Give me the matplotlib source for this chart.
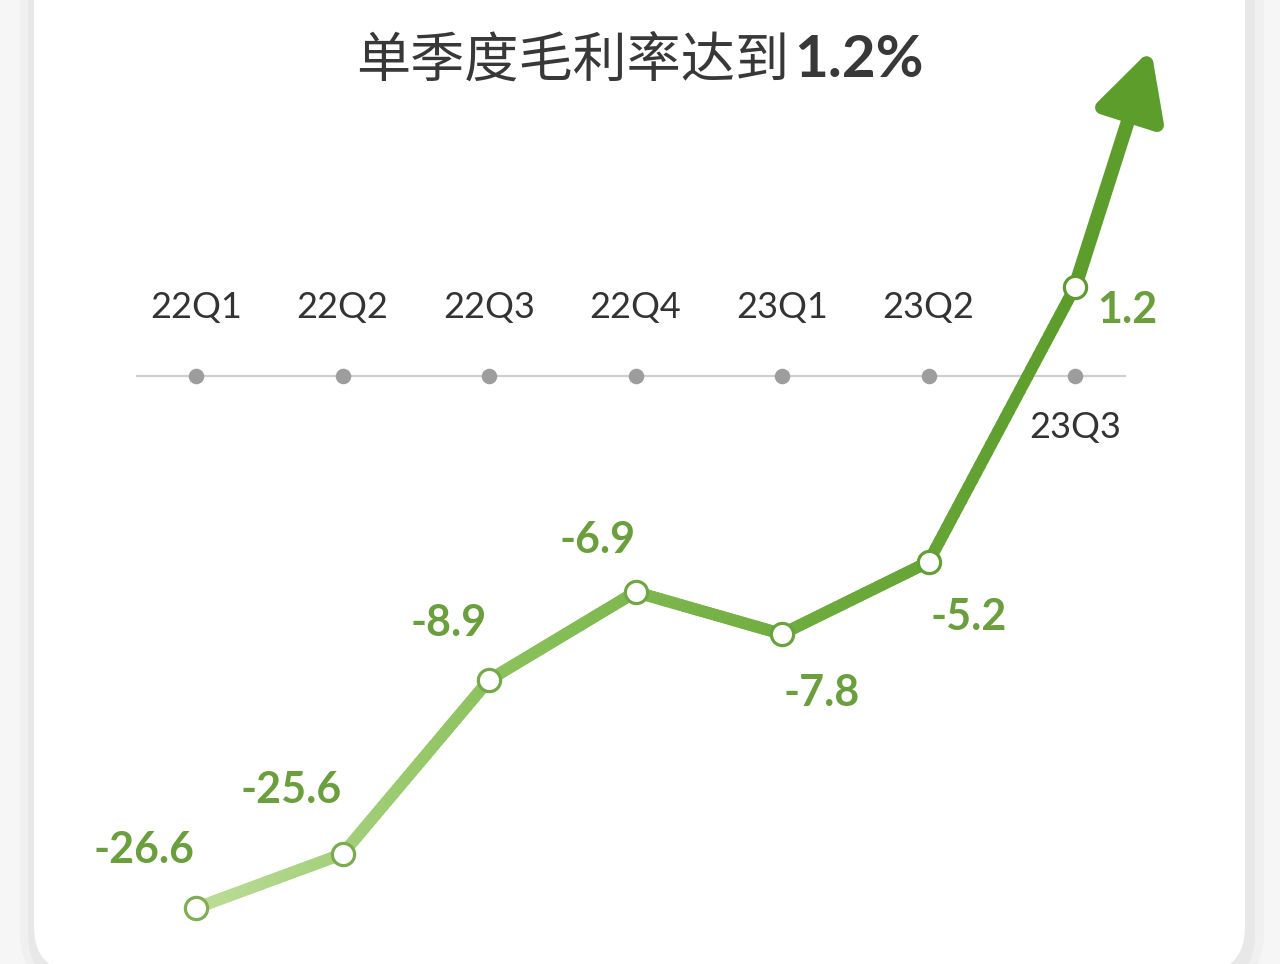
import numpy as np
import matplotlib
matplotlib.use('Agg')
import matplotlib.pyplot as plt
import matplotlib.transforms as mtransforms
from matplotlib.collections import LineCollection
from matplotlib.colors import LinearSegmentedColormap
from matplotlib.patches import FancyBboxPatch

plt.rcParams['font.family'] = ['Lato', 'Noto Sans CJK SC', 'DejaVu Sans']

# ---------------------------------------------------------------------------
# data
quarters = ['22Q1', '22Q2', '22Q3', '22Q4', '23Q1', '23Q2', '23Q3']
margin = [-26.6, -25.6, -8.9, -6.9, -7.8, -5.2, 1.2]   # gross margin, %
title_txt = '单季度毛利率达到'
title_num = '1.2%'

# ---------------------------------------------------------------------------
# layout: the source graphic is not drawn to scale, so the y axis uses a
# piecewise scale (value -> pixel height from the bottom of the card)
scale_vals = np.concatenate(([-27.6], np.sort(margin), [7.9]))
scale_px = [0, 56, 110, 284, 330, 372, 402, 677, 964]

# label offsets from each point (pixels, +y up)
label_off = [(-52, 58), (-51, 64), (-40, 57), (-38, 52),
             (40, -59), (40, -55), (52, -23)]

W, H, DPI = 12.8, 9.64, 100
PT = 72 / DPI           # pixels -> points

GREEN_TXT = '#6b9e3c'
ARROW = '#5c9d2c'
cmap = LinearSegmentedColormap.from_list(
    'g', ['#bddd99', '#8cc25d', '#70ad40', '#5b9c2b'])
edge_cmap = LinearSegmentedColormap.from_list(
    'e', ['#80ae55', '#70a643', '#5e9b30'])


def fwd(v):
    return np.interp(v, scale_vals, scale_px)


def inv(p):
    return np.interp(p, scale_px, scale_vals)


fig = plt.figure(figsize=(W, H), dpi=DPI, facecolor='#f6f6f6')

# card + soft shadow
for x0, x1, col in [(0.2, 12.64, '#f0f0f0'), (0.28, 12.55, '#e8e8e8')]:
    fig.add_artist(FancyBboxPatch((x0, -0.2), x1 - x0, 12,
                                  boxstyle='round,pad=0,rounding_size=0.5',
                                  transform=fig.dpi_scale_trans,
                                  fc=col, ec='none', zorder=-3))
fig.add_artist(FancyBboxPatch((0.34, -0.08), 12.11, 12,
                              boxstyle='round,pad=0,rounding_size=0.45',
                              transform=fig.dpi_scale_trans,
                              fc='white', ec='none', zorder=-2))

ax = fig.add_axes([0, 0, 1, 1])
ax.set_axis_off()
ax.set_yscale('function', functions=(fwd, inv))
x = np.arange(len(quarters))
step = 146.5
ax.set_xlim(-196 / step, (W * DPI - 196) / step)
ax.set_ylim(scale_vals[0], scale_vals[-1])

# timeline
blend = mtransforms.blended_transform_factory(ax.transData, ax.transAxes)
y_tl = (964 - 376) / 964
ax.plot([-59 / step, (1125 - 196) / step], [y_tl, y_tl], color='#cfcfcf',
        lw=1.6, transform=blend, zorder=1)
ax.scatter(x, [y_tl] * len(x), s=125, color='#9d9d9d', transform=blend,
           zorder=2, linewidths=0)
for i, q in enumerate(quarters):
    dy = 49 if i < len(quarters) - 1 else -37
    ax.annotate(q, (x[i], y_tl), xycoords=blend, xytext=(0, dy),
                textcoords='offset points', ha='center', va='center',
                fontsize=26, color='#333333')

# gradient line (built in axes space so each segment stays straight)
pts = ax.transAxes.inverted().transform(
    ax.transData.transform(np.column_stack([x, margin])))
segs, cvals = [], []
for a, b in zip(pts[:-1], pts[1:]):
    t = np.linspace(0, 1, 41)
    p = a + (b - a) * t[:, None]
    for j in range(len(t) - 1):
        segs.append([p[j], p[j + 1]])
        cvals.append((p[j, 0] - pts[0, 0]) / (pts[-1, 0] - pts[0, 0]))
lc = LineCollection(segs, colors=cmap(np.array(cvals)), linewidths=8.6,
                    capstyle='round', transform=ax.transAxes, zorder=3)
ax.add_collection(lc)

# arrow continuing beyond the last point
ax.annotate('', xy=(x[-1], margin[-1]), xytext=(76 * PT, 238 * PT),
            textcoords='offset points',
            arrowprops=dict(arrowstyle='<|-,head_length=1.0,head_width=0.52',
                            mutation_scale=40, color=ARROW, lw=10,
                            shrinkA=0, shrinkB=0),
            zorder=3)

# markers
frac = (pts[:, 0] - pts[0, 0]) / (pts[-1, 0] - pts[0, 0])
for i in range(len(x)):
    ax.plot(x[i], margin[i], 'o', ms=16, mfc='white',
            mec=edge_cmap(frac[i]), mew=2.3, zorder=5)

# value labels
for i, v in enumerate(margin):
    dx, dy = label_off[i]
    ax.annotate(f'{v:.1f}', (x[i], v), xytext=(dx * PT, dy * PT),
                textcoords='offset points', ha='center', va='center',
                fontsize=31, fontweight='bold', color=GREEN_TXT, zorder=6)

# title
fig.text(789 / (W * DPI), (964 - 77) / 964, title_txt, ha='right',
         va='baseline', fontsize=39, color='#383838',
         family=['Noto Sans CJK SC', 'DejaVu Sans'])
fig.text(794 / (W * DPI), (964 - 77) / 964, title_num, ha='left',
         va='baseline', fontsize=42, fontweight='bold', color='#383838')

fig.savefig('out.png', dpi=DPI, facecolor=fig.get_facecolor())
